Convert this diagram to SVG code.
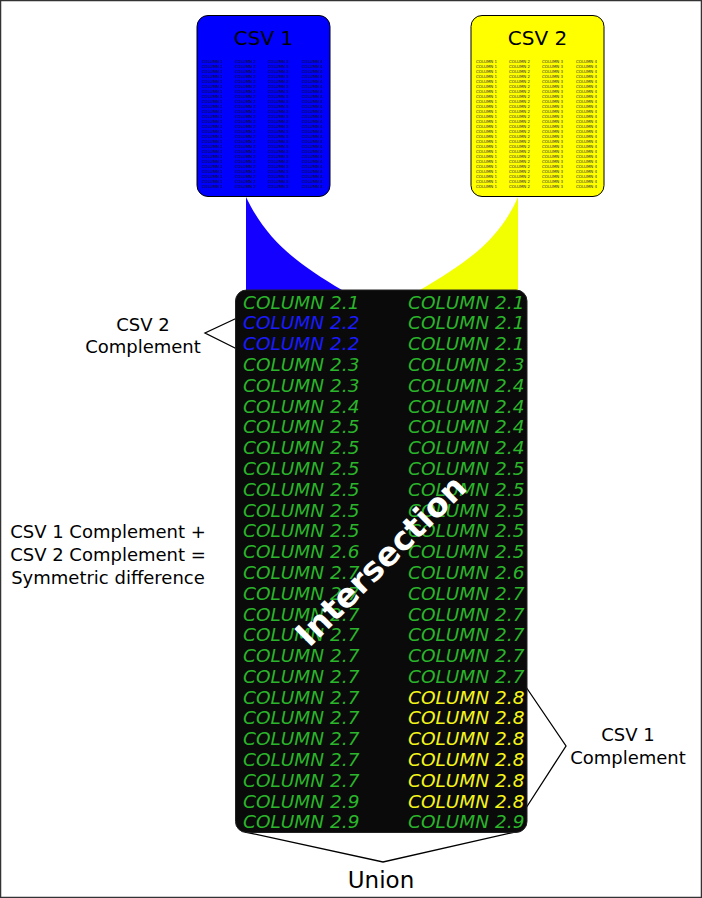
<svg xmlns="http://www.w3.org/2000/svg" width="702" height="898" viewBox="0 0 702 898">
<style>
text{font-family:"DejaVu Sans","Liberation Sans",sans-serif}
.lbl{font-size:18px;fill:#000;text-anchor:middle}
.tiny{font-size:4px;fill:#222}
.col{font-size:18.5px;font-style:italic}
.g{fill:#2ab52a}
.b{fill:#1a1aff}
.y{fill:#f5f51a}
.br{fill:none;stroke:#000;stroke-width:1.3}
</style>
<rect x="0.5" y="0.5" width="701" height="897" fill="#fff" stroke="#333" stroke-width="1.5"/>
<g id="connectors">
<path d="M246,197 C268,243 300,265 342,290 L246,290 Z" fill="#1400ff"/>
<path d="M518,197 C498,243 462,265 420,290 L518,290 Z" fill="#f2ff00"/>
<path class="br" d="M237,318 L205,333 L237,349"/>
<path class="br" d="M526,687 L566,746 L526,808"/>
<path class="br" d="M245,832 L383,862 L515,832"/>
</g>
<g id="csv1">
<rect x="197" y="15.5" width="133" height="181" rx="11" fill="#0000ff" stroke="#000" stroke-width="1"/>
<text x="263.5" y="45" style="font-size:20px;text-anchor:middle;fill:#000">CSV 1</text>
<g class="tiny" style="fill:#111">
<text x="202" y="63"><tspan x="202" dy="0">COLUMN 1</tspan><tspan x="202" dy="5">COLUMN 1</tspan><tspan x="202" dy="5">COLUMN 1</tspan><tspan x="202" dy="5">COLUMN 1</tspan><tspan x="202" dy="5">COLUMN 1</tspan><tspan x="202" dy="5">COLUMN 1</tspan><tspan x="202" dy="5">COLUMN 1</tspan><tspan x="202" dy="5">COLUMN 1</tspan><tspan x="202" dy="5">COLUMN 1</tspan><tspan x="202" dy="5">COLUMN 1</tspan><tspan x="202" dy="5">COLUMN 1</tspan><tspan x="202" dy="5">COLUMN 1</tspan><tspan x="202" dy="5">COLUMN 1</tspan><tspan x="202" dy="5">COLUMN 1</tspan><tspan x="202" dy="5">COLUMN 1</tspan><tspan x="202" dy="5">COLUMN 1</tspan><tspan x="202" dy="5">COLUMN 1</tspan><tspan x="202" dy="5">COLUMN 1</tspan><tspan x="202" dy="5">COLUMN 1</tspan><tspan x="202" dy="5">COLUMN 1</tspan><tspan x="202" dy="5">COLUMN 1</tspan><tspan x="202" dy="5">COLUMN 1</tspan><tspan x="202" dy="5">COLUMN 1</tspan><tspan x="202" dy="5">COLUMN 1</tspan><tspan x="202" dy="5">COLUMN 1</tspan><tspan x="202" dy="5">COLUMN 1</tspan></text>
<text x="235" y="63"><tspan x="235" dy="0">COLUMN 2</tspan><tspan x="235" dy="5">COLUMN 2</tspan><tspan x="235" dy="5">COLUMN 2</tspan><tspan x="235" dy="5">COLUMN 2</tspan><tspan x="235" dy="5">COLUMN 2</tspan><tspan x="235" dy="5">COLUMN 2</tspan><tspan x="235" dy="5">COLUMN 2</tspan><tspan x="235" dy="5">COLUMN 2</tspan><tspan x="235" dy="5">COLUMN 2</tspan><tspan x="235" dy="5">COLUMN 2</tspan><tspan x="235" dy="5">COLUMN 2</tspan><tspan x="235" dy="5">COLUMN 2</tspan><tspan x="235" dy="5">COLUMN 2</tspan><tspan x="235" dy="5">COLUMN 2</tspan><tspan x="235" dy="5">COLUMN 2</tspan><tspan x="235" dy="5">COLUMN 2</tspan><tspan x="235" dy="5">COLUMN 2</tspan><tspan x="235" dy="5">COLUMN 2</tspan><tspan x="235" dy="5">COLUMN 2</tspan><tspan x="235" dy="5">COLUMN 2</tspan><tspan x="235" dy="5">COLUMN 2</tspan><tspan x="235" dy="5">COLUMN 2</tspan><tspan x="235" dy="5">COLUMN 2</tspan><tspan x="235" dy="5">COLUMN 2</tspan><tspan x="235" dy="5">COLUMN 2</tspan><tspan x="235" dy="5">COLUMN 2</tspan></text>
<text x="268" y="63"><tspan x="268" dy="0">COLUMN 3</tspan><tspan x="268" dy="5">COLUMN 3</tspan><tspan x="268" dy="5">COLUMN 3</tspan><tspan x="268" dy="5">COLUMN 3</tspan><tspan x="268" dy="5">COLUMN 3</tspan><tspan x="268" dy="5">COLUMN 3</tspan><tspan x="268" dy="5">COLUMN 3</tspan><tspan x="268" dy="5">COLUMN 3</tspan><tspan x="268" dy="5">COLUMN 3</tspan><tspan x="268" dy="5">COLUMN 3</tspan><tspan x="268" dy="5">COLUMN 3</tspan><tspan x="268" dy="5">COLUMN 3</tspan><tspan x="268" dy="5">COLUMN 3</tspan><tspan x="268" dy="5">COLUMN 3</tspan><tspan x="268" dy="5">COLUMN 3</tspan><tspan x="268" dy="5">COLUMN 3</tspan><tspan x="268" dy="5">COLUMN 3</tspan><tspan x="268" dy="5">COLUMN 3</tspan><tspan x="268" dy="5">COLUMN 3</tspan><tspan x="268" dy="5">COLUMN 3</tspan><tspan x="268" dy="5">COLUMN 3</tspan><tspan x="268" dy="5">COLUMN 3</tspan><tspan x="268" dy="5">COLUMN 3</tspan><tspan x="268" dy="5">COLUMN 3</tspan><tspan x="268" dy="5">COLUMN 3</tspan><tspan x="268" dy="5">COLUMN 3</tspan></text>
<text x="302" y="63"><tspan x="302" dy="0">COLUMN 4</tspan><tspan x="302" dy="5">COLUMN 4</tspan><tspan x="302" dy="5">COLUMN 4</tspan><tspan x="302" dy="5">COLUMN 4</tspan><tspan x="302" dy="5">COLUMN 4</tspan><tspan x="302" dy="5">COLUMN 4</tspan><tspan x="302" dy="5">COLUMN 4</tspan><tspan x="302" dy="5">COLUMN 4</tspan><tspan x="302" dy="5">COLUMN 4</tspan><tspan x="302" dy="5">COLUMN 4</tspan><tspan x="302" dy="5">COLUMN 4</tspan><tspan x="302" dy="5">COLUMN 4</tspan><tspan x="302" dy="5">COLUMN 4</tspan><tspan x="302" dy="5">COLUMN 4</tspan><tspan x="302" dy="5">COLUMN 4</tspan><tspan x="302" dy="5">COLUMN 4</tspan><tspan x="302" dy="5">COLUMN 4</tspan><tspan x="302" dy="5">COLUMN 4</tspan><tspan x="302" dy="5">COLUMN 4</tspan><tspan x="302" dy="5">COLUMN 4</tspan><tspan x="302" dy="5">COLUMN 4</tspan><tspan x="302" dy="5">COLUMN 4</tspan><tspan x="302" dy="5">COLUMN 4</tspan><tspan x="302" dy="5">COLUMN 4</tspan><tspan x="302" dy="5">COLUMN 4</tspan><tspan x="302" dy="5">COLUMN 4</tspan></text>
</g>
</g>
<g id="csv2">
<rect x="471" y="15.5" width="133" height="181" rx="11" fill="#ffff00" stroke="#000" stroke-width="1"/>
<text x="537.5" y="45" style="font-size:20px;text-anchor:middle;fill:#000">CSV 2</text>
<g class="tiny" style="fill:#333">
<text x="476" y="63"><tspan x="476" dy="0">COLUMN 1</tspan><tspan x="476" dy="5">COLUMN 1</tspan><tspan x="476" dy="5">COLUMN 1</tspan><tspan x="476" dy="5">COLUMN 1</tspan><tspan x="476" dy="5">COLUMN 1</tspan><tspan x="476" dy="5">COLUMN 1</tspan><tspan x="476" dy="5">COLUMN 1</tspan><tspan x="476" dy="5">COLUMN 1</tspan><tspan x="476" dy="5">COLUMN 1</tspan><tspan x="476" dy="5">COLUMN 1</tspan><tspan x="476" dy="5">COLUMN 1</tspan><tspan x="476" dy="5">COLUMN 1</tspan><tspan x="476" dy="5">COLUMN 1</tspan><tspan x="476" dy="5">COLUMN 1</tspan><tspan x="476" dy="5">COLUMN 1</tspan><tspan x="476" dy="5">COLUMN 1</tspan><tspan x="476" dy="5">COLUMN 1</tspan><tspan x="476" dy="5">COLUMN 1</tspan><tspan x="476" dy="5">COLUMN 1</tspan><tspan x="476" dy="5">COLUMN 1</tspan><tspan x="476" dy="5">COLUMN 1</tspan><tspan x="476" dy="5">COLUMN 1</tspan><tspan x="476" dy="5">COLUMN 1</tspan><tspan x="476" dy="5">COLUMN 1</tspan><tspan x="476" dy="5">COLUMN 1</tspan><tspan x="476" dy="5">COLUMN 1</tspan></text>
<text x="509" y="63"><tspan x="509" dy="0">COLUMN 2</tspan><tspan x="509" dy="5">COLUMN 2</tspan><tspan x="509" dy="5">COLUMN 2</tspan><tspan x="509" dy="5">COLUMN 2</tspan><tspan x="509" dy="5">COLUMN 2</tspan><tspan x="509" dy="5">COLUMN 2</tspan><tspan x="509" dy="5">COLUMN 2</tspan><tspan x="509" dy="5">COLUMN 2</tspan><tspan x="509" dy="5">COLUMN 2</tspan><tspan x="509" dy="5">COLUMN 2</tspan><tspan x="509" dy="5">COLUMN 2</tspan><tspan x="509" dy="5">COLUMN 2</tspan><tspan x="509" dy="5">COLUMN 2</tspan><tspan x="509" dy="5">COLUMN 2</tspan><tspan x="509" dy="5">COLUMN 2</tspan><tspan x="509" dy="5">COLUMN 2</tspan><tspan x="509" dy="5">COLUMN 2</tspan><tspan x="509" dy="5">COLUMN 2</tspan><tspan x="509" dy="5">COLUMN 2</tspan><tspan x="509" dy="5">COLUMN 2</tspan><tspan x="509" dy="5">COLUMN 2</tspan><tspan x="509" dy="5">COLUMN 2</tspan><tspan x="509" dy="5">COLUMN 2</tspan><tspan x="509" dy="5">COLUMN 2</tspan><tspan x="509" dy="5">COLUMN 2</tspan><tspan x="509" dy="5">COLUMN 2</tspan></text>
<text x="542" y="63"><tspan x="542" dy="0">COLUMN 3</tspan><tspan x="542" dy="5">COLUMN 3</tspan><tspan x="542" dy="5">COLUMN 3</tspan><tspan x="542" dy="5">COLUMN 3</tspan><tspan x="542" dy="5">COLUMN 3</tspan><tspan x="542" dy="5">COLUMN 3</tspan><tspan x="542" dy="5">COLUMN 3</tspan><tspan x="542" dy="5">COLUMN 3</tspan><tspan x="542" dy="5">COLUMN 3</tspan><tspan x="542" dy="5">COLUMN 3</tspan><tspan x="542" dy="5">COLUMN 3</tspan><tspan x="542" dy="5">COLUMN 3</tspan><tspan x="542" dy="5">COLUMN 3</tspan><tspan x="542" dy="5">COLUMN 3</tspan><tspan x="542" dy="5">COLUMN 3</tspan><tspan x="542" dy="5">COLUMN 3</tspan><tspan x="542" dy="5">COLUMN 3</tspan><tspan x="542" dy="5">COLUMN 3</tspan><tspan x="542" dy="5">COLUMN 3</tspan><tspan x="542" dy="5">COLUMN 3</tspan><tspan x="542" dy="5">COLUMN 3</tspan><tspan x="542" dy="5">COLUMN 3</tspan><tspan x="542" dy="5">COLUMN 3</tspan><tspan x="542" dy="5">COLUMN 3</tspan><tspan x="542" dy="5">COLUMN 3</tspan><tspan x="542" dy="5">COLUMN 3</tspan></text>
<text x="576" y="63"><tspan x="576" dy="0">COLUMN 4</tspan><tspan x="576" dy="5">COLUMN 4</tspan><tspan x="576" dy="5">COLUMN 4</tspan><tspan x="576" dy="5">COLUMN 4</tspan><tspan x="576" dy="5">COLUMN 4</tspan><tspan x="576" dy="5">COLUMN 4</tspan><tspan x="576" dy="5">COLUMN 4</tspan><tspan x="576" dy="5">COLUMN 4</tspan><tspan x="576" dy="5">COLUMN 4</tspan><tspan x="576" dy="5">COLUMN 4</tspan><tspan x="576" dy="5">COLUMN 4</tspan><tspan x="576" dy="5">COLUMN 4</tspan><tspan x="576" dy="5">COLUMN 4</tspan><tspan x="576" dy="5">COLUMN 4</tspan><tspan x="576" dy="5">COLUMN 4</tspan><tspan x="576" dy="5">COLUMN 4</tspan><tspan x="576" dy="5">COLUMN 4</tspan><tspan x="576" dy="5">COLUMN 4</tspan><tspan x="576" dy="5">COLUMN 4</tspan><tspan x="576" dy="5">COLUMN 4</tspan><tspan x="576" dy="5">COLUMN 4</tspan><tspan x="576" dy="5">COLUMN 4</tspan><tspan x="576" dy="5">COLUMN 4</tspan><tspan x="576" dy="5">COLUMN 4</tspan><tspan x="576" dy="5">COLUMN 4</tspan><tspan x="576" dy="5">COLUMN 4</tspan></text>
</g>
</g>
<g id="merged">
<rect x="235.5" y="290" width="291.5" height="542.5" rx="11" fill="#0a0a0a" stroke="#222" stroke-width="1"/>
<text class="col" x="243" y="308.5"><tspan class="g" x="243" dy="0">COLUMN 2.1</tspan><tspan class="b" x="243" dy="20.8">COLUMN 2.2</tspan><tspan class="b" x="243" dy="20.8">COLUMN 2.2</tspan><tspan class="g" x="243" dy="20.8">COLUMN 2.3</tspan><tspan class="g" x="243" dy="20.8">COLUMN 2.3</tspan><tspan class="g" x="243" dy="20.8">COLUMN 2.4</tspan><tspan class="g" x="243" dy="20.8">COLUMN 2.5</tspan><tspan class="g" x="243" dy="20.8">COLUMN 2.5</tspan><tspan class="g" x="243" dy="20.8">COLUMN 2.5</tspan><tspan class="g" x="243" dy="20.8">COLUMN 2.5</tspan><tspan class="g" x="243" dy="20.8">COLUMN 2.5</tspan><tspan class="g" x="243" dy="20.8">COLUMN 2.5</tspan><tspan class="g" x="243" dy="20.8">COLUMN 2.6</tspan><tspan class="g" x="243" dy="20.8">COLUMN 2.7</tspan><tspan class="g" x="243" dy="20.8">COLUMN 2.7</tspan><tspan class="g" x="243" dy="20.8">COLUMN 2.7</tspan><tspan class="g" x="243" dy="20.8">COLUMN 2.7</tspan><tspan class="g" x="243" dy="20.8">COLUMN 2.7</tspan><tspan class="g" x="243" dy="20.8">COLUMN 2.7</tspan><tspan class="g" x="243" dy="20.8">COLUMN 2.7</tspan><tspan class="g" x="243" dy="20.8">COLUMN 2.7</tspan><tspan class="g" x="243" dy="20.8">COLUMN 2.7</tspan><tspan class="g" x="243" dy="20.8">COLUMN 2.7</tspan><tspan class="g" x="243" dy="20.8">COLUMN 2.7</tspan><tspan class="g" x="243" dy="20.8">COLUMN 2.9</tspan><tspan class="g" x="243" dy="20.8">COLUMN 2.9</tspan></text>
<text class="col" x="408" y="308.5"><tspan class="g" x="408" dy="0">COLUMN 2.1</tspan><tspan class="g" x="408" dy="20.8">COLUMN 2.1</tspan><tspan class="g" x="408" dy="20.8">COLUMN 2.1</tspan><tspan class="g" x="408" dy="20.8">COLUMN 2.3</tspan><tspan class="g" x="408" dy="20.8">COLUMN 2.4</tspan><tspan class="g" x="408" dy="20.8">COLUMN 2.4</tspan><tspan class="g" x="408" dy="20.8">COLUMN 2.4</tspan><tspan class="g" x="408" dy="20.8">COLUMN 2.4</tspan><tspan class="g" x="408" dy="20.8">COLUMN 2.5</tspan><tspan class="g" x="408" dy="20.8">COLUMN 2.5</tspan><tspan class="g" x="408" dy="20.8">COLUMN 2.5</tspan><tspan class="g" x="408" dy="20.8">COLUMN 2.5</tspan><tspan class="g" x="408" dy="20.8">COLUMN 2.5</tspan><tspan class="g" x="408" dy="20.8">COLUMN 2.6</tspan><tspan class="g" x="408" dy="20.8">COLUMN 2.7</tspan><tspan class="g" x="408" dy="20.8">COLUMN 2.7</tspan><tspan class="g" x="408" dy="20.8">COLUMN 2.7</tspan><tspan class="g" x="408" dy="20.8">COLUMN 2.7</tspan><tspan class="g" x="408" dy="20.8">COLUMN 2.7</tspan><tspan class="y" x="408" dy="20.8">COLUMN 2.8</tspan><tspan class="y" x="408" dy="20.8">COLUMN 2.8</tspan><tspan class="y" x="408" dy="20.8">COLUMN 2.8</tspan><tspan class="y" x="408" dy="20.8">COLUMN 2.8</tspan><tspan class="y" x="408" dy="20.8">COLUMN 2.8</tspan><tspan class="y" x="408" dy="20.8">COLUMN 2.8</tspan><tspan class="g" x="408" dy="20.8">COLUMN 2.9</tspan></text>
<text x="381" y="561" transform="rotate(-45 381 561)" dy="11" style="font-size:33px;font-weight:bold;fill:#fff;text-anchor:middle">Intersection</text>
</g>
<g id="labels">
<text class="lbl" x="143" y="331">CSV 2</text>
<text class="lbl" x="143" y="353">Complement</text>
<text class="lbl" x="108" y="538">CSV 1 Complement +</text>
<text class="lbl" x="108" y="561">CSV 2 Complement =</text>
<text class="lbl" x="108" y="584">Symmetric difference</text>
<text class="lbl" x="628" y="741">CSV 1</text>
<text class="lbl" x="628" y="764">Complement</text>
<text class="lbl" x="381" y="888" style="font-size:23px">Union</text>
</g>
</svg>
